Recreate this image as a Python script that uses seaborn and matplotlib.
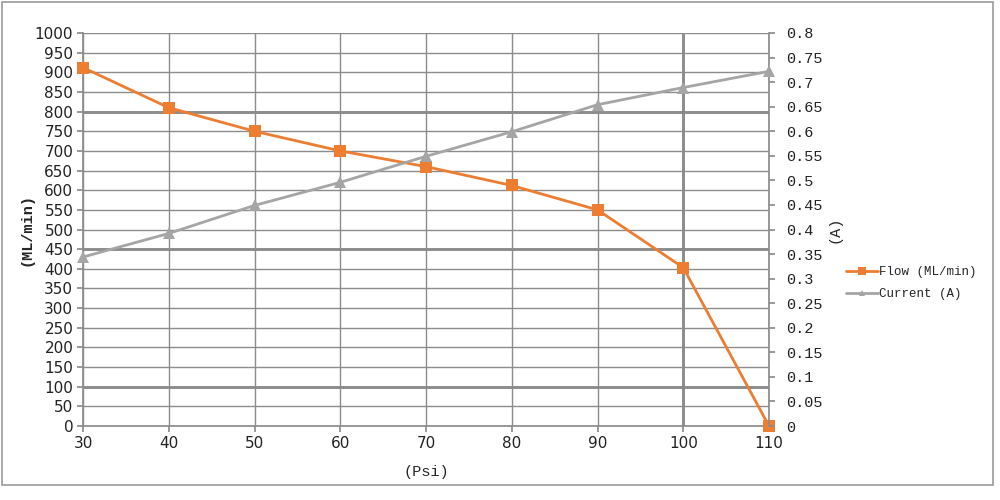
import matplotlib
matplotlib.use("Agg")
import matplotlib.pyplot as plt
import seaborn as sns
import pandas as pd
from matplotlib.patches import Rectangle

psi = [30, 40, 50, 60, 70, 80, 90, 100, 110]
flow = [912, 810, 750, 700, 660, 612, 550, 403, 0]
current = [0.344, 0.392, 0.449, 0.496, 0.549, 0.599, 0.654, 0.689, 0.722]

flow_label = "Flow (ML/min)"
current_label = "Current (A)"

sns.set_theme(style="white")
plt.rcParams['font.family'] = ['DejaVu Sans']

df = pd.DataFrame({"psi": psi, "flow": flow, "current": current})

fig = plt.figure(figsize=(10, 5), dpi=100)
ax = fig.add_axes([0.083, 0.148, 0.686, 0.786])
ax2 = ax.twinx()

grid_c = "#8c8c8c"
ax.set_xlim(30, 110)
ax.set_ylim(0, 1000)
ax2.set_ylim(0, 0.8)
ax.set_xticks(range(30, 111, 10))
ax.set_yticks(range(0, 1001, 50))
rticks = [i * 0.05 for i in range(17)]
ax2.set_yticks(rticks)
ax2.set_yticklabels([f"{v:g}" for v in rticks])
ax.grid(True, color=grid_c, linewidth=1)
ax.set_axisbelow(True)
for v in [100, 450, 800]:
    ax.axhline(v, color="#6e6e6e", linewidth=1.8, zorder=0.5)
ax.axvline(100, color="#6e6e6e", linewidth=1.8, zorder=0.5)

sns.lineplot(data=df, x="psi", y="flow", ax=ax, color="#ED7D31", marker="s",
             markersize=9, markeredgewidth=0, linewidth=2, label=flow_label, legend=False,
             zorder=5, clip_on=False)
sns.lineplot(data=df, x="psi", y="current", ax=ax2, color="#A5A5A5", marker="^",
             markersize=8, markeredgewidth=0, linewidth=2, label=current_label, legend=False,
             zorder=4, clip_on=False)

for a in (ax, ax2):
    for s in a.spines.values():
        s.set_visible(False)
ax.spines['left'].set_visible(True)
ax.spines['left'].set_color(grid_c)
ax.spines['bottom'].set_visible(True)
ax.spines['bottom'].set_color(grid_c)
ax2.spines['right'].set_visible(True)
ax2.spines['right'].set_color(grid_c)

ax.tick_params(axis='both', length=4, color=grid_c, direction='out', labelsize=11, pad=3,
               left=True, bottom=True)
ax2.tick_params(axis='y', length=4, color=grid_c, direction='out', labelsize=11, pad=8, right=True)
for t in ax2.get_yticklabels():
    t.set_family("Liberation Mono")
for t in ax.get_xticklabels() + ax.get_yticklabels() + ax2.get_yticklabels():
    t.set_color("#222222")

ax.set_xlabel("(Psi)", family="Liberation Mono", fontsize=11, labelpad=10)
ax.set_ylabel("(ML/min)", family="Liberation Mono", fontsize=11, fontweight="bold", labelpad=1)
ax2.set_ylabel("(A)", family="Liberation Mono", fontsize=11, labelpad=4)

h1, l1 = ax.get_legend_handles_labels()
h2, l2 = ax2.get_legend_handles_labels()
leg = fig.legend(h1 + h2, l1 + l2, loc="upper left", bbox_to_anchor=(0.835, 0.49),
                 frameon=False, prop={"family": "Liberation Mono", "size": 9},
                 handlelength=2.5, handletextpad=0.1, labelspacing=0.8, markerscale=0.6)

fig.patches.append(Rectangle((0.002, 0.03), 0.991, 0.966, transform=fig.transFigure,
                             fill=False, edgecolor="#999999", linewidth=1.2))

fig.savefig("out.png", dpi=100)
